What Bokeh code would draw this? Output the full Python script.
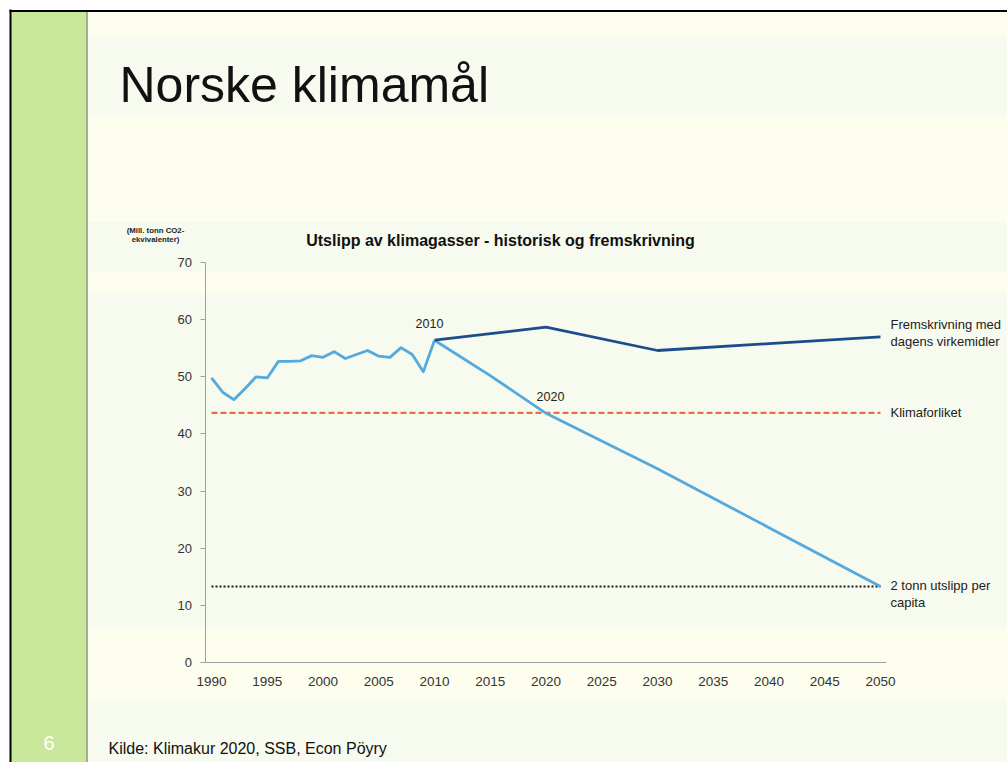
from bokeh.plotting import figure
from bokeh.models import Range1d, LinearAxis, FixedTicker, Label
from bokeh.embed import file_html
from bokeh.resources import INLINE

# ---- data ----
years_hist = list(range(1990, 2011))
emis_hist = [49.8, 47.3, 46.0, 47.9, 50.0, 49.8, 52.7, 52.7, 52.8, 53.7, 53.4,
             54.4, 53.2, 53.9, 54.6, 53.6, 53.4, 55.1, 53.9, 50.9, 56.4]
years_proj = [2010, 2020, 2030, 2040, 2050]
emis_proj = [56.4, 58.7, 54.6, 55.8, 57.0]
years_goal = [2010, 2015, 2020, 2030, 2040, 2050]
emis_goal = [56.4, 50.2, 43.6, 33.9, 23.6, 13.3]
klimaforliket = 43.7
per_capita = 13.3
x_ticks = list(range(1990, 2051, 5))
y_ticks = list(range(0, 71, 10))

# ---- geometry (page pixels -> data) ----
W, H = 1007, 762
OFF = 0
PX_PER_YEAR = (880 - 211) / 60.0
PX_PER_UNIT = (662 - 262) / 70.0
x0 = 1990 - (211 - OFF) / PX_PER_YEAR
x1 = x0 + W / PX_PER_YEAR
y_top = (662 - OFF) / PX_PER_UNIT
y_bot = y_top - H / PX_PER_UNIT


def X(px):
    return x0 + (px - OFF) / PX_PER_YEAR


def Y(py):
    return y_top - (py - OFF) / PX_PER_UNIT


p = figure(width=W, height=H, x_range=Range1d(x0, x1), y_range=Range1d(y_bot, y_top),
           x_axis_type=None, y_axis_type=None, toolbar_location=None,
           output_backend="svg", min_border=0)
p.background_fill_color = "white"
p.border_fill_color = "white"
p.outline_line_color = None
p.grid.visible = False

CREAM = "#FEFEEF"
BAND = "#F6FAEF"

# slide background
p.quad(left=[X(10)], right=[X(1010)], top=[Y(10)], bottom=[Y(770)], fill_color=CREAM, line_color=None)
for t, b in [(36, 116), (221, 271), (292, 628), (700, 770)]:
    p.quad(left=[X(87)], right=[X(1010)], top=[Y(t)], bottom=[Y(b)], fill_color=BAND, line_color=None)
# green side bar
p.quad(left=[X(10)], right=[X(86)], top=[Y(10)], bottom=[Y(770)], fill_color="#C9E79A", line_color=None)
p.segment(x0=[X(86.5)], y0=[Y(10)], x1=[X(86.5)], y1=[Y(770)], line_color="#6E7A60", line_width=1.2)
# black frame
p.segment(x0=[X(9)], y0=[Y(10.5)], x1=[X(1010)], y1=[Y(10.5)], line_color="black", line_width=2)
p.segment(x0=[X(10)], y0=[Y(9)], x1=[X(10)], y1=[Y(770)], line_color="black", line_width=2)

# ---- reference lines ----
p.line([years_hist[0], years_goal[-1]], [klimaforliket, klimaforliket],
       line_color="#EE6B3D", line_width=2.2, line_dash="6 3")
p.line([years_hist[0], years_goal[-1]], [per_capita, per_capita],
       line_color="#1A1A1A", line_width=2, line_dash="2 2")

# ---- series ----
p.line(years_hist, emis_hist, line_color="#54A9DD", line_width=2.8, line_join="round")
p.line(years_goal, emis_goal, line_color="#54A9DD", line_width=2.8, line_join="round")
p.line(years_proj, emis_proj, line_color="#1D4C8C", line_width=2.8, line_join="round")

# ---- axes ----
FONT = "Liberation Sans"
yaxis = LinearAxis(fixed_location=years_hist[0] - 0.5, bounds=(y_ticks[0], y_ticks[-1]),
                   ticker=FixedTicker(ticks=y_ticks))
yaxis.axis_line_color = "#A0A0A0"
yaxis.major_tick_line_color = "#A0A0A0"
yaxis.major_tick_out = 5
yaxis.major_tick_in = 0
yaxis.minor_tick_line_color = None
yaxis.major_label_standoff = 9
yaxis.major_label_text_font = FONT
yaxis.major_label_text_font_size = "13px"
yaxis.major_label_text_color = "#333333"
p.add_layout(yaxis, "left")

xaxis = LinearAxis(fixed_location=0, bounds=(x_ticks[0] - 0.5, x_ticks[-1] + 0.5),
                   ticker=FixedTicker(ticks=x_ticks))
xaxis.axis_line_color = "#A0A0A0"
xaxis.major_tick_line_color = None
xaxis.major_tick_out = 0
xaxis.major_tick_in = 0
xaxis.minor_tick_line_color = None
xaxis.major_label_standoff = 14
xaxis.major_label_text_font = FONT
xaxis.major_label_text_font_size = "13.5px"
xaxis.major_label_text_color = "#333333"
p.add_layout(xaxis, "below")


def lab(px, py, text, size, color="#222222", bold=False, align="left", baseline="middle", font=FONT):
    p.add_layout(Label(x=X(px), y=Y(py), text=text, text_font=font, text_font_size=size,
                       text_color=color, text_font_style="bold" if bold else "normal",
                       text_align=align, text_baseline=baseline))


# slide texts
lab(119, 84, "Norske klimamål", "50px", color="#111111")
lab(500, 240, "Utslipp av klimagasser - historisk og fremskrivning", "16px", color="#111111", bold=True, align="center")
lab(155, 230, "(Mill. tonn CO2-", "7.8px", bold=True, align="center")
lab(155, 239, "ekvivalenter)", "7.8px", bold=True, align="center")
lab(429, 323, "2010", "12.5px", color="#222222", align="center")
lab(550, 396, "2020", "12.5px", color="#222222", align="center")
lab(890, 324, "Fremskrivning med", "13px")
lab(890, 341, "dagens virkemidler", "13px")
lab(890, 412, "Klimaforliket", "13px")
lab(890, 585, "2 tonn utslipp per", "13px")
lab(890, 602, "capita", "13px")
lab(108, 748, "Kilde: Klimakur 2020, SSB, Econ Pöyry", "16px", color="#111111")
lab(48.5, 742, "6", "20px", color="white", align="center")

open("out.html", "w").write(file_html(p, INLINE))
